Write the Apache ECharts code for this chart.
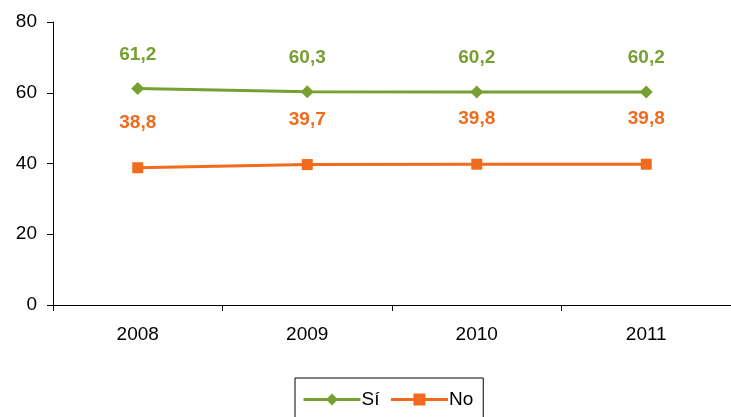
<!DOCTYPE html>
<html><head><meta charset="utf-8">
<script src="https://cdn.jsdelivr.net/npm/echarts@6/dist/echarts.min.js"></script>
<style>html,body{margin:0;padding:0;background:#fff}#c{width:731px;height:417px}</style>
</head><body><div id="c"></div>
<script>
const categories = ['2008','2009','2010','2011'];
const siValues = [61.2, 60.3, 60.2, 60.2];
const noValues = [38.8, 39.7, 39.8, 39.8];
const yTicks = [0, 20, 40, 60, 80];

const chart = echarts.init(document.getElementById('c'));
const fmt = p => String(p.value).replace('.', ',');
const FF = 'Liberation Sans, Arial';
chart.setOption({
  animation: false,
  grid: {left: 53, right: 0, top: 22, bottom: 112},
  xAxis: {
    type: 'category', data: categories, boundaryGap: true,
    axisLine: {lineStyle: {color: '#000', width: 1}},
    axisTick: {show: true, length: 6, lineStyle: {color: '#000'}},
    axisLabel: {color: '#000', fontSize: 19, fontFamily: FF, margin: 20}
  },
  yAxis: {
    type: 'value', min: yTicks[0], max: yTicks[yTicks.length-1], interval: 20,
    axisLine: {show: true, lineStyle: {color: '#000'}},
    axisTick: {show: true, length: 6, lineStyle: {color: '#000'}},
    splitLine: {show: false},
    axisLabel: {color: '#000', fontSize: 19, fontFamily: FF, margin: 16}
  },
  legend: {
    bottom: -10, left: 295,
    itemWidth: 57, itemHeight: 15, itemGap: 10,
    padding: [12, 10, 18, 7],
    borderColor: '#000', borderWidth: 1,
    lineStyle: {width: 3},
    textStyle: {color: '#000', fontSize: 19, fontFamily: FF, padding: [0,0,0,-4]},
    data: ['Sí', 'No']
  },
  series: [
    {
      name: 'Sí', type: 'line', data: siValues,
      symbol: 'diamond', symbolSize: 13,
      itemStyle: {color: '#76A032'},
      lineStyle: {color: '#76A032', width: 3},
      label: {show: true, position: 'top', distance: 18, formatter: fmt,
        color: '#76A032', fontSize: 19, fontWeight: 'bold', fontFamily: FF}
    },
    {
      name: 'No', type: 'line', data: noValues,
      symbol: 'rect', symbolSize: 11,
      itemStyle: {color: '#F26A1B'},
      lineStyle: {color: '#F26A1B', width: 3},
      label: {show: true, position: 'top', distance: 30, formatter: fmt,
        color: '#F26A1B', fontSize: 19, fontWeight: 'bold', fontFamily: FF}
    }
  ]
});
</script></body></html>
